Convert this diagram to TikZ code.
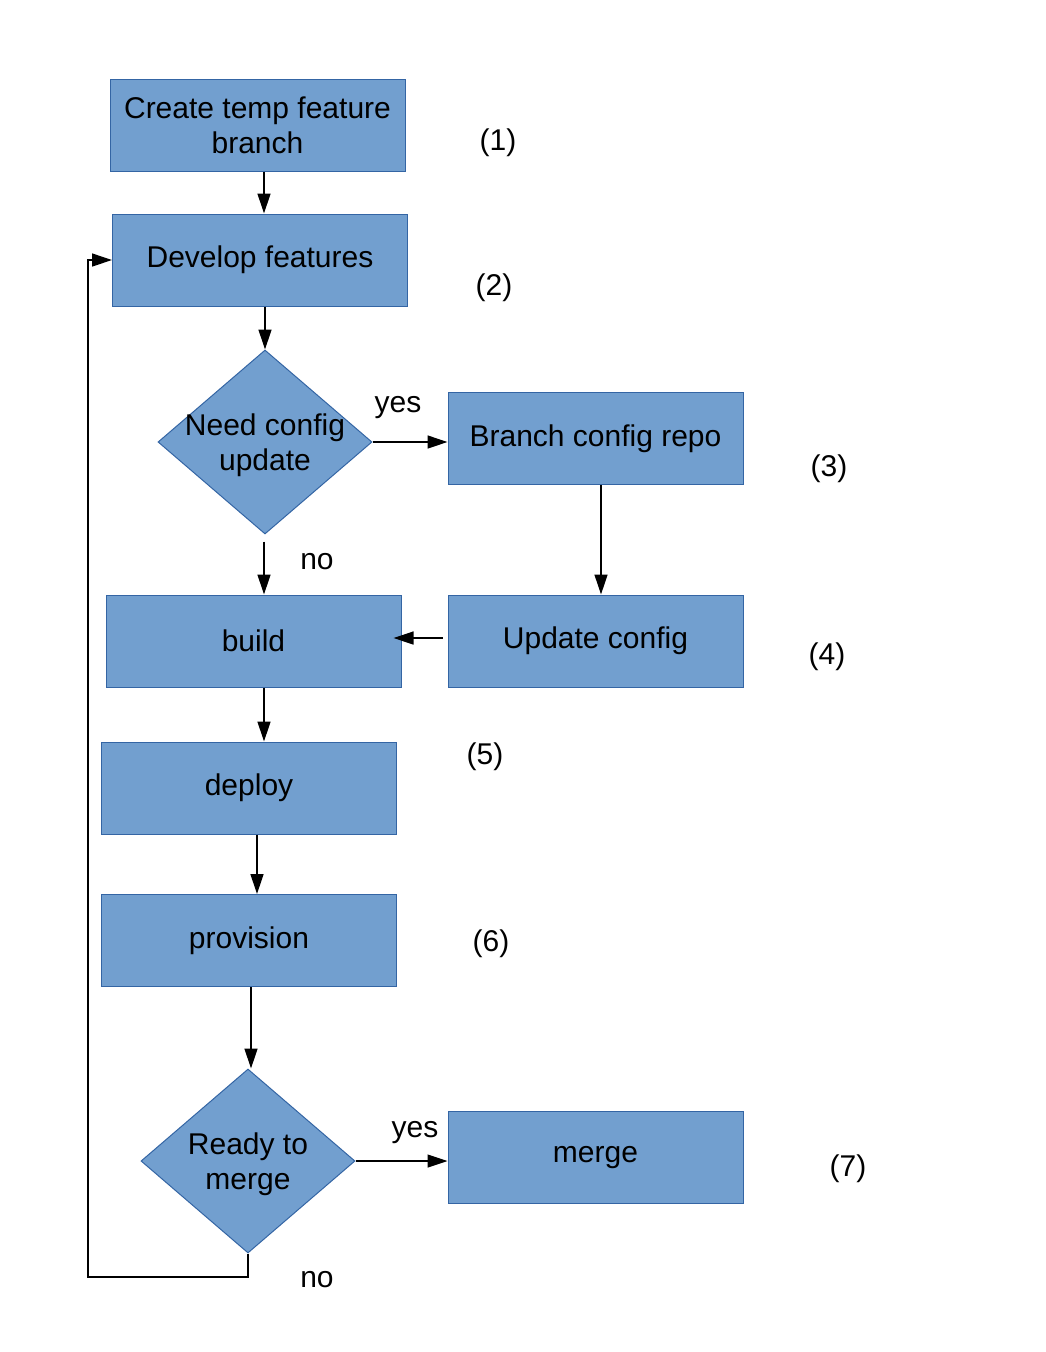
\documentclass[tikz,border=0pt]{standalone}
\usepackage{fontspec}
\setmainfont{Liberation Sans}
\usetikzlibrary{shapes.geometric,arrows.meta}
\definecolor{boxfill}{HTML}{729FCF}
\definecolor{boxline}{HTML}{3465A4}
\begin{document}
\begin{tikzpicture}[x=1pt,y=-1pt,
  every node/.style={font=\fontsize{30}{35}\selectfont},
  box/.style={rectangle, fill=boxfill, draw=boxline, line width=1pt, inner sep=0pt,
    minimum width=295pt, minimum height=92pt, align=center},
  dec/.style={diamond, fill=boxfill, draw=boxline, line width=1pt, inner sep=0pt,
    minimum width=214pt, minimum height=184pt},
  arr/.style={-{Triangle[length=20pt,width=13pt]}, line width=1.3pt},
  tag/.style={inner sep=0pt}]
\fill[white] (0,0) rectangle (1045,1352);
\useasboundingbox (0,0) rectangle (1045,1352);

\node[box] (b1) at (257.5,125) {Create temp feature\\branch};
\node[box] (b2) at (260,260) {Develop features};
\node[dec, label={[align=center,inner sep=0pt,yshift=-3pt]center:Need config\\update}] (d1) at (265,442) {};
\node[box] (b3) at (595.5,438.5) {Branch config repo};
\node[box] (b5) at (253.5,641) {build};
\node[box] (b4) at (595.5,641) {Update config};
\node[box] (b6) at (249,788) {deploy};
\node[box] (b7) at (249,940.5) {provision};
\node[dec, label={[align=center,inner sep=0pt,yshift=-3pt]center:Ready to\\merge}] (d2) at (248,1161) {};
\node[box] (b8) at (595.5,1157.5) {merge};

\node[tag] (n1) at (498,143) {(1)};
\node[tag] (n2) at (494,288) {(2)};
\node[tag] (n3) at (829,469) {(3)};
\node[tag] (n4) at (827,657) {(4)};
\node[tag] (n5) at (485,757) {(5)};
\node[tag] (n6) at (491,944) {(6)};
\node[tag] (n7) at (848,1169) {(7)};

\node[tag] (y1) at (398,408) {yes};
\node[tag] (no1) at (317,562) {no};
\node[tag] (y2) at (415,1133) {yes};
\node[tag] (no2) at (317,1280) {no};

\draw[arr] ([xshift=6.5pt]b1.south) -- ([xshift=6.5pt]b1.south |- b2.north);
\draw[arr] (d1.north |- b2.south) -- (d1.north);
\draw[arr] (d1.east) -- (d1.east -| b3.west);
\draw[arr] ([xshift=5.5pt]b3.south) -- ([xshift=5.5pt]b4.north);
\draw[arr] ([xshift=-5pt,yshift=3pt]b4.west) -- ([xshift=-8pt,yshift=3pt]b5.east);
\draw[arr] ([xshift=-1pt,yshift=-7pt]d1.south) -- ([xshift=-1pt]d1.south |- b5.north);
\draw[arr] ([xshift=10.5pt]b5.south) -- ([xshift=10.5pt]b5.south |- b6.north);
\draw[arr] ([xshift=8pt]b6.south) -- ([xshift=8pt]b7.north);
\draw[arr] ([xshift=2pt]b7.south) -- ([xshift=2pt]b7.south |- d2.north);
\draw[arr] (d2.east) -- (d2.east -| b8.west);
\coordinate (loop) at (88,1277);
\draw[arr] (d2.south) |- (loop) |- (b2.west);
\end{tikzpicture}
\end{document}
